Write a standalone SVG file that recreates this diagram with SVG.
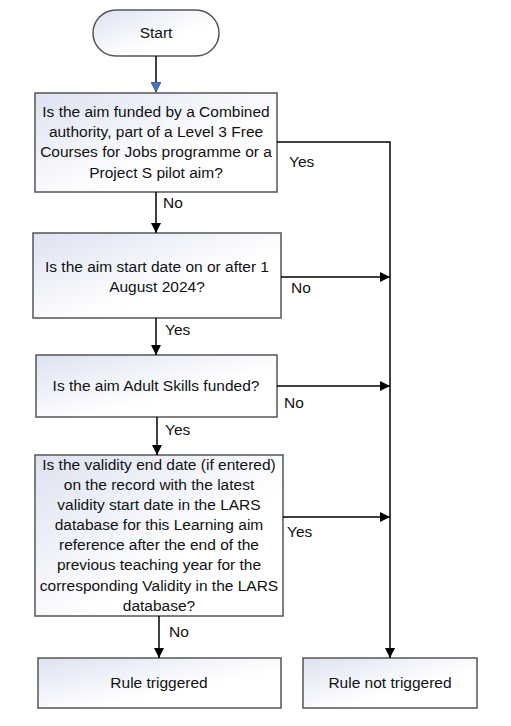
<svg xmlns="http://www.w3.org/2000/svg" width="511" height="726" viewBox="0 0 511 726">
<defs>
<linearGradient id="g" x1="0" y1="0" x2="1" y2="1">
<stop offset="0" stop-color="#dde2f2"/>
<stop offset="0.6" stop-color="#ffffff"/>
</linearGradient>
<marker id="ah" viewBox="0 0 10 10" refX="10" refY="5" markerWidth="10" markerHeight="10" markerUnits="userSpaceOnUse" orient="auto">
<path d="M0,0 L10,5 L0,10 Z" fill="#000"/>
</marker>
<marker id="ab" viewBox="0 0 10 10" refX="10" refY="5" markerWidth="10" markerHeight="10" markerUnits="userSpaceOnUse" orient="auto">
<path d="M0,0 L10,5 L0,10 Z" fill="#4f74c0" stroke="#2f4f8f" stroke-width="0.8"/>
</marker>
<style>
.box{fill:url(#g);stroke:#555;stroke-width:1.5}
.t{font-family:"Liberation Sans",Arial,sans-serif;font-size:15.5px;fill:#111;text-anchor:middle}
.l{font-family:"Liberation Sans",Arial,sans-serif;font-size:15.5px;fill:#111}
.c{fill:none;stroke:#000;stroke-width:1.5}
</style>
</defs>
<rect width="511" height="726" fill="#fff"/>
<g id="start">
<rect class="box" x="93" y="10" width="126" height="46" rx="23"/>
<text class="t" x="156" y="38">Start</text>
</g>
<g id="q1">
<rect class="box" x="35" y="93" width="242" height="99"/>
<text class="t" x="156" y="117">Is the aim funded by a Combined</text>
<text class="t" x="156" y="137">authority, part of a Level 3 Free</text>
<text class="t" x="156" y="157">Courses for Jobs programme or a</text>
<text class="t" x="156" y="178">Project S pilot aim?</text>
</g>
<g id="q2">
<rect class="box" x="33" y="233" width="248" height="85"/>
<text class="t" x="157" y="272">Is the aim start date on or after 1</text>
<text class="t" x="157" y="292">August 2024?</text>
</g>
<g id="q3">
<rect class="box" x="36" y="355" width="241" height="62"/>
<text class="t" x="156" y="391">Is the aim Adult Skills funded?</text>
</g>
<g id="q4">
<rect class="box" x="35" y="455" width="248" height="161"/>
<text class="t" x="159" y="470">Is the validity end date (if entered)</text>
<text class="t" x="159" y="490">on the record with the latest</text>
<text class="t" x="159" y="510">validity start date in the LARS</text>
<text class="t" x="159" y="530">database for this Learning aim</text>
<text class="t" x="159" y="550">reference after the end of the</text>
<text class="t" x="159" y="570">previous teaching year for the</text>
<text class="t" x="159" y="591">corresponding Validity in the LARS</text>
<text class="t" x="159" y="611">database?</text>
</g>
<g id="r1">
<rect class="box" x="38" y="658" width="243" height="50"/>
<text class="t" x="159" y="688">Rule triggered</text>
</g>
<g id="r2">
<rect class="box" x="303" y="658" width="174" height="50"/>
<text class="t" x="390" y="688">Rule not triggered</text>
</g>
<g id="connectors">
<line class="c" x1="156" y1="56" x2="156" y2="92" marker-end="url(#ab)"/>
<line class="c" x1="156" y1="192" x2="156" y2="233" marker-end="url(#ah)"/>
<line class="c" x1="156" y1="318" x2="156" y2="355" marker-end="url(#ah)"/>
<line class="c" x1="157" y1="417" x2="157" y2="455" marker-end="url(#ah)"/>
<line class="c" x1="159" y1="616" x2="159" y2="658" marker-end="url(#ah)"/>
<polyline class="c" points="277,142 390,142 390,658" marker-end="url(#ah)"/>
<line class="c" x1="281" y1="277" x2="390" y2="277" marker-end="url(#ah)"/>
<line class="c" x1="277" y1="386" x2="390" y2="386" marker-end="url(#ah)"/>
<line class="c" x1="283" y1="517" x2="390" y2="517" marker-end="url(#ah)"/>
</g>
<g id="labels">
<text class="l" x="289" y="167">Yes</text>
<text class="l" x="163" y="208">No</text>
<text class="l" x="291" y="293">No</text>
<text class="l" x="165" y="335">Yes</text>
<text class="l" x="284" y="408">No</text>
<text class="l" x="165" y="435">Yes</text>
<text class="l" x="287" y="537">Yes</text>
<text class="l" x="169" y="637">No</text>
</g>
</svg>
